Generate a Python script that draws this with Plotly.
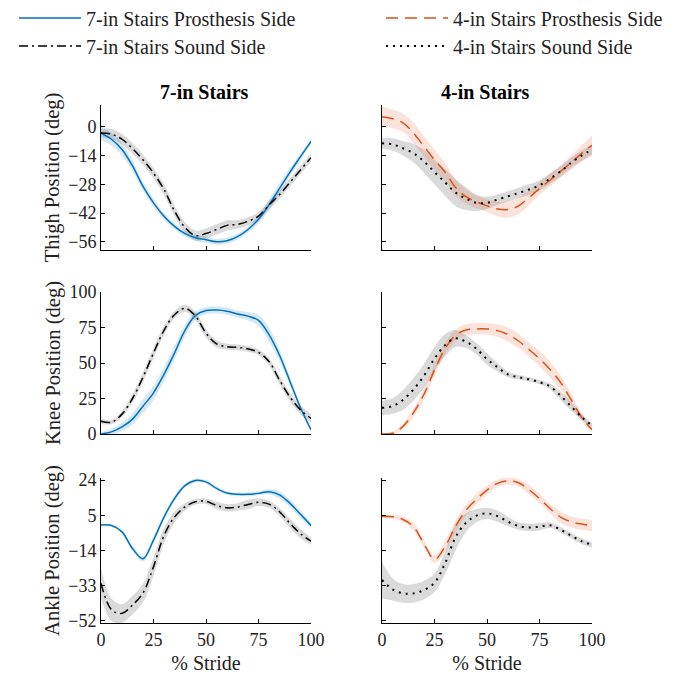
import plotly.graph_objects as go

# ---------------- data ----------------
stride = [0, 5, 10, 15, 20, 25, 30, 35, 40, 45, 50, 55, 60, 65, 70, 75, 80, 85, 90, 95, 100]

# Thigh, 7-in stairs
thigh7_pros_mean = [-3, -6, -11, -19, -29, -37, -43.5, -48.5, -52, -54, -55, -56, -55.5, -53.5, -50, -45, -38, -30, -22, -14.5, -7]
thigh7_pros_sd = [3.5, 3, 3, 2.5, 2, 2, 1.5, 1.5, 1.5, 1.5, 1.5, 1.5, 1.5, 1.5, 1.5, 2, 2.5, 2.5, 2, 1.5, 1]
thigh7_sound_mean = [-3, -3.5, -6, -10.5, -16, -22.5, -30.5, -41, -49, -53, -52, -50, -48, -47.5, -46, -43.5, -38, -33, -27, -21, -15]
thigh7_sound_sd = [2, 2.5, 2.5, 2.5, 2.5, 2.5, 2.5, 2.5, 2.5, 2.5, 2.5, 2.5, 2.5, 2, 2, 2, 2, 2, 2, 2, 2]

# Thigh, 4-in stairs
thigh4_pros_mean = [5, 4, 2, -3, -9.5, -16, -22, -29.5, -34, -36.5, -38.5, -40, -40.3, -38.5, -34.5, -30, -26, -21.7, -17.5, -13, -9]
thigh4_pros_sd = [5, 4.5, 4.5, 5, 5, 5, 4.5, 4, 3.5, 3, 3, 3.5, 4, 4, 3.5, 3, 3, 3, 3.5, 4, 5]
thigh4_sound_mean = [-8, -8.5, -10.4, -12.8, -16.8, -22, -27, -32, -35, -37, -37, -35.4, -33.8, -32.2, -30.5, -28.5, -25.2, -21.7, -17.5, -14, -11]
thigh4_sound_sd = [2.5, 3, 3.5, 4.5, 5.5, 6, 6.5, 6.5, 5.5, 4, 3, 2.5, 2.5, 2.5, 2.5, 2.5, 2.5, 2.5, 2.5, 2.5, 2.5]

# Knee, 7-in stairs
knee7_pros_mean = [0, 1.5, 5, 10.5, 19.6, 29, 42, 57, 73, 83.5, 87, 87.3, 86.5, 84.5, 83, 80, 70, 55.5, 37, 18.5, 3]
knee7_pros_sd = [1, 2, 3, 4, 5, 5, 5, 5, 4, 3, 2.5, 2.5, 2.5, 2.5, 3, 4, 5, 4, 3, 2, 1.5]
knee7_sound_mean = [9, 8.3, 14, 25, 40, 57, 73, 84, 88.5, 83, 71, 63.5, 61.5, 61, 60, 57.5, 51, 38, 26, 17, 11]
knee7_sound_sd = [2, 1.5, 2, 3, 3.5, 3.5, 3, 2.5, 2.5, 3, 3, 2.5, 2, 2, 2, 2, 2.5, 3, 3, 3, 3]

# Knee, 4-in stairs
knee4_pros_mean = [0, 0.5, 5.4, 15, 28, 45, 60, 69.5, 73.3, 74, 74, 72.8, 70, 65.5, 59.5, 53, 45.5, 36.4, 24.3, 12, 3]
knee4_pros_sd = [0.5, 1, 2, 3, 4, 4, 4, 4, 4, 4, 4, 4.5, 5, 5, 5, 5.5, 5.5, 5, 4, 3, 1.5]
knee4_sound_mean = [18.4, 19.7, 24, 31.4, 41, 53, 62.5, 67.3, 65, 60, 52.7, 47, 42, 40, 38.5, 36.5, 33.5, 27, 19.5, 12, 6]
knee4_sound_sd = [5, 5.5, 7, 8, 8.5, 8.5, 8, 6, 4.5, 4, 4, 3, 2, 1.5, 1.5, 1.5, 2, 3, 3, 2, 1.5]

# Ankle, 7-in stairs
ankle7_pros_mean = [-0.3, -0.5, -4, -13, -18.5, -8.4, 4, 14, 21, 23.8, 23, 19.5, 17, 16.3, 16.3, 16.8, 17.7, 16, 11.4, 5.5, -0.5]
ankle7_pros_sd = [0.5, 0.5, 1, 1.5, 1.5, 1.5, 1.5, 1.5, 1, 1, 1, 1, 1, 1, 1, 1, 1.5, 2, 2, 2, 1.5]
ankle7_sound_mean = [-31.8, -46, -48, -43.5, -37, -22.8, -6, 4, 9.5, 12.3, 12.5, 10.3, 9, 9.4, 10.8, 12, 11, 6.9, 0.6, -5, -9]
ankle7_sound_sd = [8, 6, 5, 5, 5, 5, 4, 3, 2, 1.5, 1.5, 2, 2, 2, 2.5, 2, 2, 2, 2.5, 2.5, 2]

# Ankle, 4-in stairs
ankle4_pros_mean = [4.5, 4.2, 2.7, -1.2, -10.5, -18.8, -12, -1, 7.7, 13.6, 18.6, 22.2, 23.5, 22.5, 18.8, 14, 8.6, 4, 1.5, 0.2, -0.7]
ankle4_pros_sd = [1, 1, 1.5, 2, 2, 2, 3, 3, 3, 3, 2.5, 2, 2, 2, 2.5, 2.5, 2.5, 3, 3, 3, 3]
ankle4_sound_mean = [-30, -35, -37.2, -37.2, -35.4, -31.5, -21, -7, 1, 4.8, 6, 4.5, 1.5, -0.8, -1.6, -1.2, -0.4, -2.8, -6, -9, -11]
ankle4_sound_sd = [10, 6, 5, 5, 5, 5, 6, 7, 5, 3.5, 3, 3, 2.5, 2, 2, 2, 1.5, 1.5, 1.5, 1.5, 1.5]

col_titles = ["7-in Stairs", "4-in Stairs"]
row_titles = ["Thigh Position (deg)", "Knee Position (deg)", "Ankle Position (deg)"]
thigh_ticks = [-56, -42, -28, -14, 0]
knee_ticks = [0, 25, 50, 75, 100]
ankle_ticks = [-52, -33, -14, 5, 24]
stride_ticks = [0, 25, 50, 75, 100]
legend_names = ["7-in Stairs Prosthesis Side", "7-in Stairs Sound Side",
                "4-in Stairs Prosthesis Side", "4-in Stairs Sound Side"]

# ---------------- styles ----------------
FONT = "Liberation Serif, Times New Roman, serif"
BLUE = "#0072BD"
ORANGE = "#D95319"
BLUE_BAND = "rgba(0,114,189,0.16)"
ORANGE_BAND = "rgba(217,83,25,0.16)"
GRAY_BAND = "rgba(140,140,140,0.32)"

# the page body adds an 8px margin around the figure div
PAGE_W, PAGE_H, OFF = 680, 678, 8
W, H = PAGE_W - OFF, PAGE_H - OFF


def fx(px):
    return (px - OFF) / W


def fy(py):
    return 1 - (py - OFF) / H


x_dom = [[fx(101), fx(311)], [fx(382), fx(592)]]
y_dom = [[fy(250), fy(105)], [fy(434), fy(292)], [fy(623), fy(478)]]
y_ranges = [[-60, 10.7], [0, 100], [-53.2, 25.1]]
y_ticks = [thigh_ticks, knee_ticks, ankle_ticks]

fig = go.Figure()

panels = [
    # (row, col, pros_mean, pros_sd, sound_mean, sound_sd)
    (0, 0, thigh7_pros_mean, thigh7_pros_sd, thigh7_sound_mean, thigh7_sound_sd),
    (0, 1, thigh4_pros_mean, thigh4_pros_sd, thigh4_sound_mean, thigh4_sound_sd),
    (1, 0, knee7_pros_mean, knee7_pros_sd, knee7_sound_mean, knee7_sound_sd),
    (1, 1, knee4_pros_mean, knee4_pros_sd, knee4_sound_mean, knee4_sound_sd),
    (2, 0, ankle7_pros_mean, ankle7_pros_sd, ankle7_sound_mean, ankle7_sound_sd),
    (2, 1, ankle4_pros_mean, ankle4_pros_sd, ankle4_sound_mean, ankle4_sound_sd),
]


def band(xa, ya, mean, sd, color):
    lo = [m - s for m, s in zip(mean, sd)]
    hi = [m + s for m, s in zip(mean, sd)]
    fig.add_trace(go.Scatter(x=stride, y=lo, xaxis=xa, yaxis=ya, mode="lines",
                             line=dict(width=0, shape="spline", smoothing=1.0),
                             showlegend=False, hoverinfo="skip"))
    fig.add_trace(go.Scatter(x=stride, y=hi, xaxis=xa, yaxis=ya, mode="lines",
                             line=dict(width=0, shape="spline", smoothing=1.0),
                             fill="tonexty", fillcolor=color,
                             showlegend=False, hoverinfo="skip"))


# bands first
for r, c, pm, ps, sm, ss in panels:
    idx = r * 2 + c + 1
    xa = "x" if idx == 1 else f"x{idx}"
    ya = "y" if idx == 1 else f"y{idx}"
    band(xa, ya, sm, ss, GRAY_BAND)
    band(xa, ya, pm, ps, BLUE_BAND if c == 0 else ORANGE_BAND)

# mean lines, each legend entry in its own legend box (2 x 2 layout)
for r, c, pm, ps, sm, ss in panels:
    idx = r * 2 + c + 1
    xa = "x" if idx == 1 else f"x{idx}"
    ya = "y" if idx == 1 else f"y{idx}"
    first = (r == 0)
    if c == 0:
        fig.add_trace(go.Scatter(x=stride, y=pm, xaxis=xa, yaxis=ya, mode="lines",
                                 name=legend_names[0], legend="legend",
                                 line=dict(color=BLUE, width=1.5, shape="spline"),
                                 showlegend=first))
        fig.add_trace(go.Scatter(x=stride, y=sm, xaxis=xa, yaxis=ya, mode="lines",
                                 name=legend_names[1], legend="legend2",
                                 line=dict(color="black", width=1.5, shape="spline",
                                           dash="9px,4px,2px,4px"),
                                 showlegend=first))
    else:
        fig.add_trace(go.Scatter(x=stride, y=pm, xaxis=xa, yaxis=ya, mode="lines",
                                 name=legend_names[2], legend="legend3",
                                 line=dict(color=ORANGE, width=1.5, shape="spline",
                                           dash="12px,7px"),
                                 showlegend=first))
        fig.add_trace(go.Scatter(x=stride, y=sm, xaxis=xa, yaxis=ya, mode="lines",
                                 name=legend_names[3], legend="legend4",
                                 line=dict(color="black", width=2, shape="spline",
                                           dash="2px,5px"),
                                 showlegend=first))

axis_common = dict(showline=True, linecolor="black", linewidth=1, ticks="inside",
                   ticklen=4, tickcolor="black", showgrid=False, zeroline=False,
                   tickfont=dict(family=FONT, size=18, color="#222"))

layout = {}
for r in range(3):
    for c in range(2):
        idx = r * 2 + c + 1
        xk = "xaxis" if idx == 1 else f"xaxis{idx}"
        yk = "yaxis" if idx == 1 else f"yaxis{idx}"
        xname = "x" if idx == 1 else f"x{idx}"
        yname = "y" if idx == 1 else f"y{idx}"
        xd = dict(axis_common, domain=x_dom[c], range=[0, 100], tickvals=stride_ticks,
                  anchor=yname, showticklabels=(r == 2))
        if r == 2:
            xd["title"] = dict(text="% Stride", font=dict(family=FONT, size=20, color="#222"),
                               standoff=7)
        yd = dict(axis_common, domain=y_dom[r], range=y_ranges[r], tickvals=y_ticks[r],
                  anchor=xname, showticklabels=(c == 0))
        if c == 0:
            yd["title"] = dict(text=row_titles[r], font=dict(family=FONT, size=20.5, color="#222"),
                               standoff=3)
        layout[xk] = xd
        layout[yk] = yd

annotations = []
for c in range(2):
    annotations.append(dict(text=f"<b>{col_titles[c]}</b>", xref="paper", yref="paper",
                            x=(x_dom[c][0] + x_dom[c][1]) / 2 - 2 / W, y=fy(92),
                            xanchor="center", yanchor="middle", showarrow=False,
                            font=dict(family=FONT, size=20, color="black")))

legend_common = dict(orientation="h", xanchor="left", yanchor="middle", itemwidth=62,
                     font=dict(family=FONT, size=20, color="#222"),
                     bgcolor="rgba(0,0,0,0)")

fig.update_layout(
    width=W, height=H,
    margin=dict(l=0, r=0, t=0, b=0, autoexpand=False),
    paper_bgcolor="white", plot_bgcolor="white",
    showlegend=True,
    legend=dict(legend_common, x=fx(14), y=fy(18)),
    legend2=dict(legend_common, x=fx(14), y=fy(46)),
    legend3=dict(legend_common, x=fx(381), y=fy(18)),
    legend4=dict(legend_common, x=fx(381), y=fy(46)),
    annotations=annotations,
    **layout,
)

fig.write_html("out.html")
